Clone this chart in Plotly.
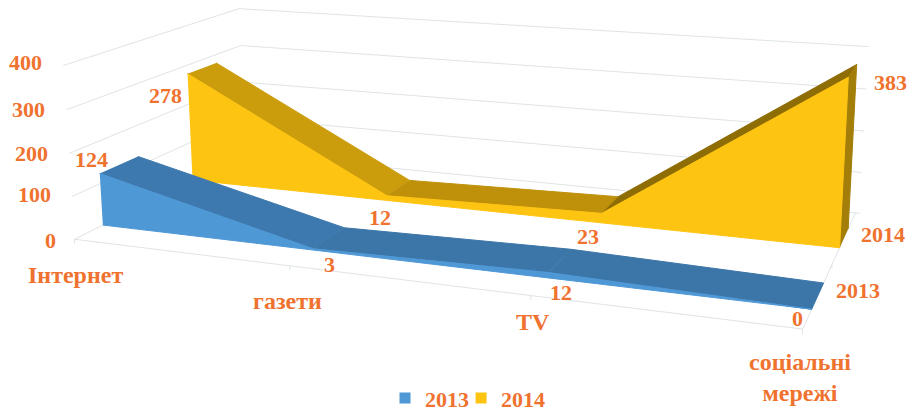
import numpy as np
import plotly.graph_objects as go

# ---- data ----
categories = ["Інтернет", "газети", "TV", "соціальні<br>мережі"]
series_names = ["2013", "2014"]
values_2013 = [124, 3, 12, 0]
values_2014 = [278, 12, 23, 383]
value_ticks = [0, 100, 200, 300, 400]

# ---- 3-D layout of the chart ----
VALUE_MAX = 400
DEPTH_2013 = (0.1421, 0.3454)
DEPTH_2014 = (0.6522, 0.8336)
# perspective camera (category fraction, depth, value fraction, 1) -> picture axes
CAMERA = np.array([[599.532476, 220.664273, -12.838677, 74.49383],
                   [37.073596, -53.626712, -175.425629, 239.267563],
                   [-0.16023, 0.2061, -0.025514, 1.0]])

FONT = "Liberation Serif"
TEXT = "#F0722F"
GRID = "#DFE4E6"
C_2013 = dict(front="#4F98D6", top=["#3D79AE", "#3C76A8", "#3C76A8"])
C_2014 = dict(front="#FEC412", top=["#CB9C0C", "#BF910B", "#8F6D05"], cap="#A37E08")


def project(cat, depth, value):
    """cat: category index, depth: 0 front..1 back, value: data value."""
    h = CAMERA @ np.array([cat / (len(categories) - 1), depth, value / VALUE_MAX, 1.0])
    return float(h[0] / h[2]), float(h[1] / h[2])


def poly(points, color, name, hover=None):
    xy = [project(*p) for p in points]
    return go.Scatter(x=[a for a, _ in xy], y=[b for _, b in xy], mode="lines",
                      fill="toself", fillcolor=color, line=dict(color=color, width=1),
                      showlegend=False, name=name, hoverinfo="text", text=hover or name)


def line(points, width=1, color=GRID):
    xy = [project(*p) for p in points]
    return go.Scatter(x=[a for a, _ in xy], y=[b for _, b in xy], mode="lines",
                      line=dict(color=color, width=width), showlegend=False, hoverinfo="skip")


def area(values, depth, colors, name):
    n = len(values)
    d0, d1 = depth
    out = []
    labels = [f"{name}: {c.replace('<br>', ' ')} = {v}" for c, v in zip(categories, values)]
    for i in range(n - 1):
        out.append(poly([(i, d0, values[i]), (i + 1, d0, values[i + 1]),
                         (i + 1, d1, values[i + 1]), (i, d1, values[i])],
                        colors["top"][i], name, labels[i]))
    if "cap" in colors:
        out.append(poly([(n - 1, d0, 0), (n - 1, d0, values[-1]),
                         (n - 1, d1, values[-1]), (n - 1, d1, 0)], colors["cap"], name, labels[-1]))
    front = [(i, d0, values[i]) for i in range(n)] + [(n - 1, d0, 0), (0, d0, 0)]
    out.append(poly(front, colors["front"], name, name))
    return out


fig = go.Figure()
last = len(categories) - 1
for t in value_ticks:
    fig.add_trace(line([(0, 0, t), (0, 1, t), (last * 1.006, 1, t)]))
fig.add_trace(line([(0, 0, 0), (last, 0, 0), (last, 1, 0)]))
for i in range(len(categories)):
    fig.add_trace(line([(i, 0, 0), (i, 0, -10)]))
fig.add_trace(line([(last, 0.5, 0), (last, 0.5, -8)]))

for tr in area(values_2014, DEPTH_2014, C_2014, series_names[1]):
    fig.add_trace(tr)
for tr in area(values_2013, DEPTH_2013, C_2013, series_names[0]):
    fig.add_trace(tr)

for name, col, leg in zip(series_names, [C_2013["front"], C_2014["front"]], ["legend", "legend2"]):
    fig.add_trace(go.Scatter(x=[None], y=[None], mode="markers", name=name, legend=leg,
                             showlegend=True,
                             marker=dict(symbol="square", size=11, color=col)))


def label(text, pos, shift, size=22):
    x, y = project(*pos)
    fig.add_annotation(x=x, y=y, xref="x", yref="y", text=text, showarrow=False,
                       xshift=shift[0], yshift=-shift[1], xanchor="center", yanchor="middle",
                       font=dict(family=FONT, size=size, color=TEXT, weight="bold"))


for t, s in zip(value_ticks, [(-24, 1), (-37, -2), (-37, 0), (-38, 0), (-38, -3)]):
    label(str(t), (0, 0, t), s)
for i, s in enumerate([(-8, -14), (16, 16), (13, 20), (-14, 9)]):
    label(str(values_2013[i]), (i, DEPTH_2013[0], values_2013[i]), s)
for i, s in enumerate([(-22, 22), (-7, 22), (-14, 23)]):
    label(str(values_2014[i]), (i, DEPTH_2014[0], values_2014[i]), s)
label(str(values_2014[3]), (3, DEPTH_2014[1], values_2014[3]), (34, 18))
for i, s in enumerate([(1, 36), (-2, 35), (2, 26), (-3, 48)]):
    label(categories[i], (i, 0, 0), s, size=24)
label(series_names[0], (3, sum(DEPTH_2013) / 2, 0), (40, -5))
label(series_names[1], (3, sum(DEPTH_2014) / 2, 0), (39, -4))

legend_style = dict(orientation="h", y=0.036, xanchor="left", yanchor="middle", itemwidth=30,
                    font=dict(family=FONT, size=22, color=TEXT, weight="bold"),
                    bgcolor="rgba(0,0,0,0)")
fig.update_layout(
    width=913, height=413, margin=dict(l=0, r=0, t=0, b=0, autoexpand=False),
    paper_bgcolor="white", plot_bgcolor="white",
    xaxis=dict(range=[0, 913], visible=False, fixedrange=True),
    yaxis=dict(range=[413, 0], visible=False, fixedrange=True),
    legend=dict(x=0.4217, **legend_style),
    legend2=dict(x=0.505, **legend_style),
)
fig.write_html("out.html", config=dict(displayModeBar=False),
               post_script="document.body.style.margin='0';")
